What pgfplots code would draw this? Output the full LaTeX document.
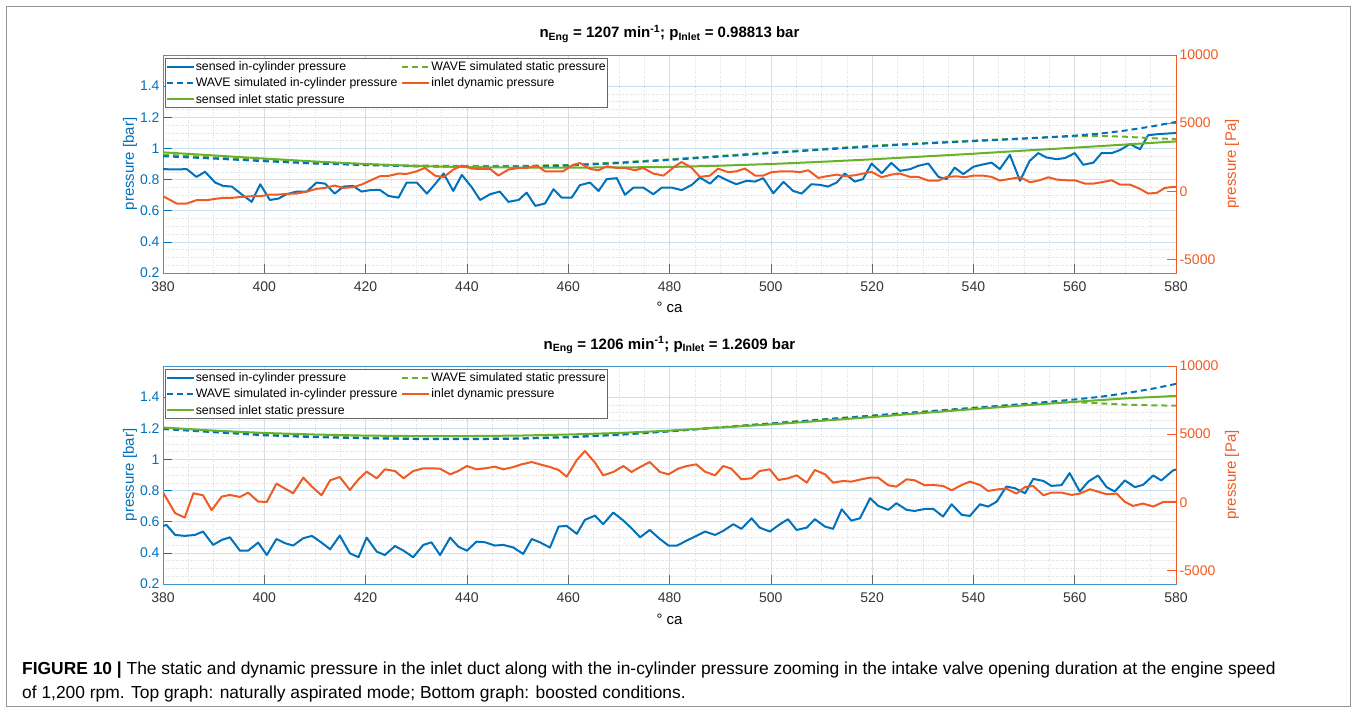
\documentclass[border=0pt]{standalone}
\usepackage{pgfplots}
\pgfplotsset{compat=1.18}
\usepackage{fontspec}
\setmainfont{Liberation Sans}

\definecolor{mblue}{RGB}{0,114,189}
\definecolor{morange}{RGB}{240,90,35}
\definecolor{mgreen}{RGB}{105,178,40}
\definecolor{gridgray}{RGB}{220,220,220}
\definecolor{gridblue}{RGB}{200,225,243}
\definecolor{framegray}{RGB}{150,150,150}

\newcommand{\fs}[1]{\fontsize{#1}{#1}\selectfont}

\pgfplotsset{
  panel/.style={
    scale only axis, width=1013pt, height=218pt,
    xmin=380, xmax=580,
    xtick={380,400,...,580}, minor x tick num=3,
    every tick label/.append style={font=\fs{14pt}},
    /pgf/number format/assume math mode=true,
    /pgf/number format/1000 sep={},
    scaled y ticks=false,
    tick align=inside, major tick length=9pt, minor tick length=0pt,
  },
  leftpanel/.style={
    panel,
    ymin=0.2, ymax=1.6,
    ytick={0.2,0.4,0.6,0.8,1,1.2,1.4}, minor y tick num=3,
    xtick pos=left, ytick pos=left,
    xticklabel style={yshift=-5pt, text=black!80},
    yticklabel style={text=mblue},
    x axis line style={draw=black!45, line width=0.6pt},
    y axis line style={draw=mblue!75, line width=0.8pt},
    xtick style={draw=black!60, line width=0.6pt},
    ytick style={draw=mblue, line width=0.6pt},
    grid=both,
    major x grid style={draw=gridgray, line width=0.5pt},
    minor x grid style={draw=gridgray, line width=0.5pt, dotted},
    major y grid style={draw=gridblue, line width=0.6pt},
    minor y grid style={draw=gridgray, line width=0.5pt, dotted},
    xlabel={° ca},
    xlabel style={font=\fs{15pt}, at={(0.5,0)}, anchor=base, yshift=-40pt},
    ylabel={pressure [bar]},
    ylabel style={font=\fs{15pt}, text=mblue, at={(-0.0326,0.5)}, anchor=center},
    title style={font=\fs{15pt}, at={(0.5,1)}, anchor=base, yshift=11pt},
    legend columns=2,
    legend cell align=left,
    legend image code/.code={\draw[#1] (0pt,0pt) -- (27pt,0pt);},
    legend style={at={(rel axis cs:0,1)}, anchor=north west, xshift=1.5pt, yshift=-3pt,
      draw=black!60, line width=0.6pt, fill=white, font=\fs{12.3pt},
      inner xsep=1pt, inner ysep=2pt, row sep=4pt,
      nodes={inner sep=1pt},
      /tikz/every even column/.append style={column sep=3pt}},
  },
  rightpanel/.style={
    panel,
    ymin=-6000, ymax=10000,
    ytick={-5000,0,5000,10000},
    axis x line=none, axis y line*=right,
    y axis line style={draw=morange, line width=0.8pt},
    ytick style={draw=morange, line width=0.6pt},
    yticklabel style={text=morange},
    ylabel={pressure [Pa]},
    ylabel style={font=\fs{15pt}, text=morange, at={(1.0553,0.5)}, anchor=center},
  },
  sensed/.style={mblue, line width=2pt, line join=round},
  wavecyl/.style={mblue, line width=2pt, dash pattern=on 6pt off 4pt},
  inletstat/.style={mgreen, line width=2pt},
  wavestat/.style={mgreen, line width=2pt, dash pattern=on 6pt off 4pt},
  dynamic/.style={morange, line width=2pt, line join=round},
}

\begin{document}
\begin{tikzpicture}[x=1pt, y=1pt]
\useasboundingbox (0,0) rectangle (1356,710);
\draw[framegray, line width=0.8pt] (6,4) rectangle (1350,704);

% ---------------- top panel: naturally aspirated ----------------
\begin{axis}[leftpanel, at={(163pt,437pt)}, anchor=south west,
  title={\textbf{n\textsubscript{Eng} = 1207 min\textsuperscript{-1}; p\textsubscript{Inlet} = 0.98813 bar}}]
\addplot[sensed, forget plot] coordinates {
(380,0.867)(382.3,0.865)(384.7,0.867)(386.6,0.817)(388.3,0.850)(390.3,0.781)(391.9,0.759)(393.6,0.755)(395.5,0.706)(397.5,0.657)(399.2,0.770)(401.1,0.669)(402.8,0.678)(404.4,0.706)(406.4,0.723)(408.4,0.723)(410.3,0.781)(412.0,0.774)(413.9,0.710)(415.6,0.755)(417.5,0.759)(419.2,0.723)(420.9,0.732)(422.8,0.734)(424.5,0.695)(426.5,0.684)(428.1,0.781)(430.1,0.781)(432.1,0.710)(433.7,0.770)(435.4,0.839)(437.3,0.727)(439.0,0.830)(441.0,0.749)(442.6,0.669)(444.6,0.706)(446.5,0.723)(448.2,0.657)(450.2,0.669)(451.8,0.716)(453.5,0.631)(455.4,0.646)(457.1,0.738)(458.7,0.684)(460.7,0.684)(462.3,0.764)(464.3,0.781)(466.0,0.727)(467.6,0.803)(469.6,0.809)(471.2,0.702)(472.9,0.749)(474.8,0.749)(476.8,0.706)(478.5,0.749)(480.4,0.749)(482.4,0.732)(484.4,0.766)(486.0,0.813)(488.0,0.774)(489.6,0.824)(491.6,0.792)(493.2,0.770)(495.2,0.792)(496.9,0.787)(498.5,0.809)(500.5,0.712)(502.5,0.785)(504.4,0.727)(506.1,0.710)(508.0,0.770)(509.7,0.766)(511.3,0.755)(513.0,0.781)(514.6,0.839)(516.6,0.787)(518.2,0.803)(519.9,0.903)(521.9,0.841)(523.8,0.907)(525.5,0.856)(527.5,0.867)(529.1,0.888)(531.1,0.903)(533.1,0.817)(534.7,0.803)(536.3,0.877)(538.0,0.835)(540.0,0.882)(541.6,0.895)(543.6,0.909)(545.2,0.867)(547.2,0.959)(549.2,0.792)(551.1,0.920)(552.8,0.970)(554.4,0.942)(556.4,0.931)(558.1,0.938)(560.0,0.970)(561.7,0.895)(563.7,0.909)(565.3,0.970)(567.3,0.970)(568.9,0.989)(570.9,1.028)(572.9,0.995)(574.5,1.085)(576.5,1.092)(579.5,1.098)(580,1.100)
};
\addplot[wavestat, forget plot] coordinates {
(380,0.960)(390,0.943)(400,0.925)(410,0.910)(420,0.898)(430,0.890)(440,0.886)(450,0.887)(460,0.894)(470,0.910)(480,0.930)(490,0.952)(500,0.974)(510,0.996)(520,1.017)(530,1.034)(540,1.050)(550,1.065)(560,1.078)(565,1.080)(570,1.075)(575,1.066)(580,1.060)
};
\addplot[wavecyl, forget plot] coordinates {
(380,0.950)(390,0.935)(400,0.918)(410,0.903)(420,0.893)(430,0.885)(440,0.882)(450,0.883)(460,0.890)(470,0.906)(480,0.926)(490,0.948)(500,0.970)(510,0.992)(520,1.013)(530,1.031)(540,1.047)(550,1.063)(560,1.082)(565,1.095)(570,1.115)(575,1.140)(580,1.170)
};
\addplot[inletstat, forget plot] coordinates {
(380,0.975)(390,0.955)(400,0.935)(410,0.916)(420,0.900)(430,0.887)(440,0.880)(450,0.877)(460,0.877)(470,0.878)(480,0.881)(490,0.889)(500,0.900)(510,0.914)(520,0.930)(530,0.948)(540,0.966)(550,0.986)(560,1.005)(570,1.025)(580,1.045)
};
\addlegendimage{sensed}
\addlegendimage{wavestat}
\addlegendimage{wavecyl}
\addlegendimage{dynamic}
\addlegendimage{inletstat}
\legend{sensed in-cylinder pressure, WAVE simulated static pressure,
  WAVE simulated in-cylinder pressure, inlet dynamic pressure,
  sensed inlet static pressure}
\end{axis}

\begin{axis}[rightpanel, at={(163pt,437pt)}, anchor=south west]
\addplot[dynamic] coordinates {
(380,-364)(382.7,-900)(384.7,-900)(386.6,-657)(388.6,-657)(390.3,-559)(391.9,-486)(393.6,-486)(395.5,-412)(397.5,-364)(399.2,-364)(401.1,-242)(402.8,-242)(404.4,-193)(406.4,-168)(408.4,-22)(410.3,173)(412.0,247)(413.9,417)(415.6,247)(417.5,295)(419.2,490)(420.9,783)(422.8,1100)(424.5,1125)(426.5,1296)(428.1,1271)(430.1,1466)(431.7,1710)(433.7,1149)(435.4,1027)(437.3,1588)(439.0,1881)(441.0,1662)(442.6,1637)(444.6,1637)(446.2,1149)(448.2,1588)(450.2,1710)(451.8,1710)(453.8,1881)(455.4,1466)(457.1,1466)(459.0,1466)(460.7,1881)(462.3,2077)(464.3,1637)(466.0,1540)(467.6,1833)(469.6,1710)(471.2,1710)(473.2,1540)(474.8,1710)(476.8,1296)(478.8,1149)(481.1,1833)(482.4,2150)(484.4,1710)(486.0,1051)(488.0,1149)(489.6,1662)(491.6,1393)(493.2,1466)(494.9,1662)(496.9,1149)(498.5,1149)(500.1,1393)(502.1,1466)(504.1,1466)(505.7,1393)(507.4,1540)(509.4,978)(511.0,1100)(513.0,1222)(514.6,1100)(516.6,1173)(518.2,1296)(519.9,1418)(521.9,1027)(523.8,1222)(525.5,1296)(527.5,1051)(529.1,1051)(531.1,783)(533.1,783)(534.7,1051)(536.7,1100)(538.3,1027)(540.0,1149)(541.9,1149)(543.6,1051)(545.2,783)(547.2,905)(549.2,1027)(551.2,661)(553.1,807)(554.8,1027)(556.4,856)(558.4,807)(560.0,807)(562.0,563)(563.7,563)(565.3,661)(567.3,807)(568.9,490)(570.9,490)(572.9,173)(574.5,-168)(576.2,-120)(577.8,247)(579.5,320)(580,330)
};
\end{axis}

% ---------------- bottom panel: boosted ----------------
\begin{axis}[leftpanel, at={(163pt,126pt)}, anchor=south west,
  title={\textbf{n\textsubscript{Eng} = 1206 min\textsuperscript{-1}; p\textsubscript{Inlet} = 1.2609 bar}}]
\addplot[sensed, forget plot] coordinates {
(380,0.573)(380.7,0.579)(382.4,0.515)(384.3,0.509)(386.3,0.515)(387.9,0.537)(389.9,0.451)(391.6,0.483)(393.2,0.500)(395.2,0.414)(396.8,0.414)(398.8,0.466)(400.5,0.386)(402.4,0.489)(404.1,0.462)(405.7,0.447)(407.7,0.494)(409.4,0.509)(411.3,0.466)(413.0,0.423)(414.9,0.511)(416.9,0.397)(418.6,0.372)(420.2,0.498)(422.2,0.408)(423.8,0.386)(425.8,0.444)(427.5,0.414)(429.4,0.372)(431.4,0.451)(433.0,0.468)(434.7,0.386)(436.7,0.498)(438.3,0.440)(440.0,0.414)(441.9,0.472)(443.6,0.468)(445.5,0.447)(447.2,0.451)(449.2,0.434)(451.1,0.393)(452.8,0.489)(454.4,0.468)(456.4,0.434)(458.1,0.569)(459.7,0.573)(461.7,0.522)(463.3,0.612)(465.3,0.639)(466.9,0.584)(468.9,0.659)(470.9,0.607)(472.5,0.558)(474.2,0.500)(476.1,0.547)(478.1,0.489)(479.8,0.447)(481.5,0.447)(483.4,0.479)(485.3,0.509)(487.0,0.537)(489.0,0.515)(490.6,0.541)(492.6,0.584)(494.2,0.554)(496.2,0.622)(497.8,0.562)(499.8,0.537)(501.8,0.584)(503.4,0.616)(505.1,0.547)(507.1,0.562)(508.7,0.616)(510.7,0.569)(512.3,0.554)(514.0,0.680)(515.9,0.607)(517.6,0.622)(519.6,0.751)(521.2,0.702)(523.2,0.676)(524.8,0.719)(526.8,0.676)(528.4,0.669)(530.4,0.682)(532.1,0.682)(534.0,0.633)(535.7,0.712)(537.7,0.644)(539.3,0.637)(541.3,0.712)(542.9,0.697)(544.6,0.729)(546.5,0.826)(548.2,0.815)(550.2,0.783)(551.8,0.875)(553.8,0.862)(555.4,0.830)(557.4,0.835)(559.0,0.912)(561.0,0.794)(562.7,0.858)(564.6,0.897)(566.3,0.822)(567.9,0.794)(569.9,0.865)(571.9,0.822)(573.5,0.837)(575.5,0.897)(577.1,0.865)(579.4,0.929)(580,0.935)
};
\addplot[wavestat, forget plot] coordinates {
(380,1.200)(390,1.180)(400,1.160)(410,1.147)(420,1.140)(430,1.134)(440,1.133)(450,1.136)(460,1.145)(470,1.160)(480,1.182)(490,1.207)(500,1.232)(510,1.257)(520,1.282)(530,1.307)(540,1.332)(550,1.355)(555,1.365)(560,1.368)(565,1.360)(570,1.352)(575,1.348)(580,1.345)
};
\addplot[wavecyl, forget plot] coordinates {
(380,1.195)(390,1.175)(400,1.155)(410,1.143)(420,1.136)(430,1.131)(440,1.130)(450,1.133)(460,1.142)(470,1.158)(480,1.180)(490,1.205)(500,1.230)(510,1.255)(520,1.280)(530,1.305)(540,1.330)(550,1.356)(560,1.385)(565,1.402)(570,1.425)(575,1.452)(580,1.485)
};
\addplot[inletstat, forget plot] coordinates {
(380,1.205)(390,1.185)(400,1.170)(410,1.160)(420,1.153)(430,1.150)(440,1.150)(450,1.153)(460,1.160)(470,1.170)(480,1.185)(490,1.205)(500,1.225)(510,1.248)(520,1.272)(530,1.298)(540,1.323)(550,1.347)(560,1.370)(570,1.392)(580,1.408)
};
\addlegendimage{sensed}
\addlegendimage{wavestat}
\addlegendimage{wavecyl}
\addlegendimage{dynamic}
\addlegendimage{inletstat}
\legend{sensed in-cylinder pressure, WAVE simulated static pressure,
  WAVE simulated in-cylinder pressure, inlet dynamic pressure,
  sensed inlet static pressure}
\end{axis}

\begin{axis}[rightpanel, at={(163pt,126pt)}, anchor=south west]
\addplot[dynamic] coordinates {
(380,730)(382.4,-805)(384.3,-1122)(386.0,659)(387.9,512)(389.6,-586)(391.6,415)(393.2,537)(395.2,390)(396.8,708)(398.8,49)(400.5,24)(402.4,1366)(404.1,1000)(405.7,659)(407.7,1806)(409.4,1147)(411.3,512)(413.0,1610)(414.9,1854)(416.9,903)(418.6,1684)(420.2,2245)(422.2,1757)(423.8,2416)(425.8,2294)(427.5,1757)(429.4,2294)(431.4,2489)(433.0,2489)(434.7,2465)(436.7,2050)(438.3,2294)(440.0,2660)(441.9,2416)(443.6,2489)(445.5,2611)(447.2,2416)(449.2,2587)(450.8,2782)(452.8,2953)(454.4,2782)(456.4,2587)(458.1,2367)(459.7,1879)(461.7,3099)(463.3,3758)(465.3,2904)(466.9,1976)(468.9,2221)(470.9,2660)(472.5,2221)(474.2,2587)(476.1,2953)(478.1,2221)(479.8,2050)(481.7,2465)(483.4,2660)(485.3,2782)(487.0,2245)(489.0,1976)(490.6,2660)(492.2,2465)(494.2,1684)(496.2,1757)(497.8,2294)(499.8,2416)(501.5,1635)(503.4,1757)(505.1,1976)(507.1,1440)(508.7,2367)(510.7,2050)(512.3,1440)(514.3,1562)(515.9,1513)(517.9,1684)(519.6,1806)(521.2,1806)(523.2,1244)(524.8,1147)(526.8,1684)(528.4,1610)(530.4,1244)(532.1,1269)(534.0,1196)(535.7,878)(537.7,1269)(539.3,1513)(541.3,1269)(542.9,830)(544.9,952)(546.5,1000)(548.5,634)(550.2,1122)(551.8,1196)(553.8,512)(555.4,708)(557.4,708)(559.4,537)(561.0,634)(563.0,952)(564.6,781)(566.3,586)(568.3,634)(569.9,24)(571.5,-268)(573.5,-98)(575.5,-317)(577.5,24)(579.4,24)(580,30)
};
\end{axis}

% ---------------- caption ----------------
\node[anchor=base west, font=\fs{17.4pt}, inner sep=0pt] at (22,36)
  {\textbf{FIGURE 10 |} The static and dynamic pressure in the inlet duct along with the in-cylinder pressure zooming in the intake valve opening duration at the engine speed};
\node[anchor=base west, font=\fs{17.4pt}, inner sep=0pt] at (22,12)
  {of 1,200 rpm. Top graph: naturally aspirated mode; Bottom graph: boosted conditions.};
\end{tikzpicture}
\end{document}
